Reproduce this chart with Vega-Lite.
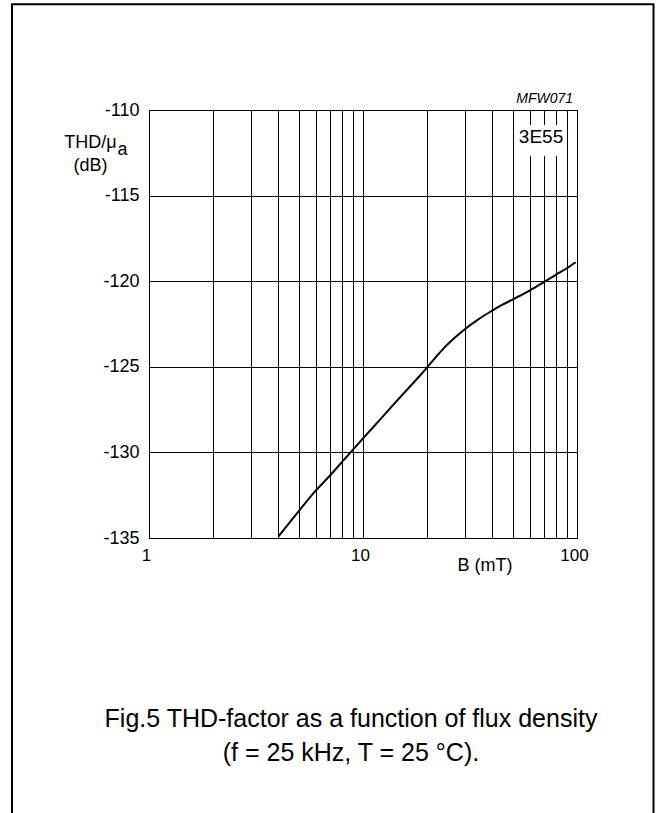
{
  "$schema": "https://vega.github.io/schema/vega-lite/v6.json",
  "width": 428,
  "height": 428,
  "autosize": "none",
  "padding": {"left": 149, "top": 110, "right": 84, "bottom": 275},
  "background": "white",
  "title": {
    "text": ["Fig.5 THD-factor as a function of flux density", "(f = 25 kHz, T = 25 °C)."],
    "orient": "bottom",
    "anchor": "middle",
    "frame": "group",
    "font": "Liberation Sans",
    "fontSize": 25,
    "fontWeight": "normal",
    "color": "#000",
    "lineHeight": 34,
    "offset": -110,
    "dx": -12
  },
  "config": {
    "view": {"stroke": "#000", "strokeWidth": 1},
    "font": "Liberation Sans"
  },
  "layer": [
    {
      "data": {"values": [
        {"B": 4.02, "THD": -134.92},
        {"B": 5.078, "THD": -133.34},
        {"B": 5.967, "THD": -132.28},
        {"B": 7.012, "THD": -131.35},
        {"B": 8.24, "THD": -130.36},
        {"B": 10, "THD": -129.18},
        {"B": 12.01, "THD": -128.09},
        {"B": 14.11, "THD": -127.11},
        {"B": 16.58, "THD": -126.15},
        {"B": 18.47, "THD": -125.51},
        {"B": 20, "THD": -125.01},
        {"B": 21.7, "THD": -124.49},
        {"B": 23.7, "THD": -123.95},
        {"B": 26.91, "THD": -123.29},
        {"B": 30, "THD": -122.79},
        {"B": 34.46, "THD": -122.24},
        {"B": 39.9, "THD": -121.74},
        {"B": 44.62, "THD": -121.39},
        {"B": 50, "THD": -121.07},
        {"B": 60, "THD": -120.55},
        {"B": 70, "THD": -120.05},
        {"B": 80, "THD": -119.61},
        {"B": 90, "THD": -119.23},
        {"B": 98.6, "THD": -118.89}
      ]},
      "mark": {"type": "line", "color": "#000", "strokeWidth": 2, "interpolate": "monotone"},
      "encoding": {
        "x": {
          "field": "B", "type": "quantitative",
          "scale": {"type": "log", "domain": [1, 100], "nice": false},
          "axis": {
            "values": [1, 2, 3, 4, 5, 6, 7, 8, 9, 10, 20, 30, 40, 50, 60, 70, 80, 90, 100],
            "labelExpr": "datum.value == 1 || datum.value == 10 || datum.value == 100 ? format(datum.value, 'd') : ''",
            "grid": true, "gridColor": "#000", "gridOpacity": 1, "gridWidth": 1,
            "ticks": false, "tickSize": 0, "domain": false,
            "labelFont": "Liberation Sans", "labelFontSize": 17, "labelColor": "#000",
            "labelBaseline": "alphabetic", "labelPadding": 22, "labelOffset": -3,
            "labelFlush": false, "labelOverlap": false,
            "title": "B (mT)", "titleFont": "Liberation Sans", "titleFontSize": 18,
            "titleFontWeight": "normal", "titleColor": "#000",
            "titleAlign": "center", "titleBaseline": "alphabetic",
            "titleX": 335.5, "titleY": 32.7
          }
        },
        "y": {
          "field": "THD", "type": "quantitative",
          "scale": {"domain": [-135, -110], "nice": false, "zero": false},
          "axis": {
            "values": [-135, -130, -125, -120, -115, -110],
            "labelExpr": "'' + datum.value",
            "grid": true, "gridColor": "#000", "gridOpacity": 1, "gridWidth": 1,
            "ticks": false, "tickSize": 0, "domain": false,
            "labelFont": "Liberation Sans", "labelFontSize": 18, "labelColor": "#000",
            "labelPadding": 10,
            "title": ["THD/μ", "(dB)"],
            "titleFont": "Liberation Sans", "titleFontSize": 18, "titleFontWeight": "normal",
            "titleColor": "#000", "titleAngle": 0, "titleAlign": "center",
            "titleBaseline": "alphabetic", "titleLineHeight": 23,
            "titleX": -59, "titleY": 37
          }
        }
      }
    },
    {
      "data": {"values": [{"label": "a"}]},
      "mark": {"type": "text", "font": "Liberation Sans", "fontSize": 18, "align": "left", "baseline": "alphabetic", "color": "#000"},
      "encoding": {
        "x": {"datum": 0.7124, "type": "quantitative"},
        "y": {"datum": -112.63, "type": "quantitative"},
        "text": {"field": "label"}
      }
    },
    {
      "data": {"values": [{"label": "3E55"}]},
      "mark": {"type": "rect", "color": "white"},
      "encoding": {
        "x": {"datum": 51.9, "type": "quantitative"},
        "x2": {"datum": 88.5},
        "y": {"datum": -110.88, "type": "quantitative"},
        "y2": {"datum": -112.69}
      }
    },
    {
      "data": {"values": [{"label": "3E55"}]},
      "mark": {"type": "text", "font": "Liberation Sans", "fontSize": 19, "align": "center", "baseline": "alphabetic", "color": "#000"},
      "encoding": {
        "x": {"datum": 67.9, "type": "quantitative"},
        "y": {"datum": -111.945, "type": "quantitative"},
        "text": {"field": "label"}
      }
    },
    {
      "data": {"values": [{"label": "MFW071"}]},
      "mark": {"type": "text", "font": "Liberation Sans", "fontSize": 14, "fontStyle": "italic", "align": "right", "baseline": "alphabetic", "color": "#000"},
      "encoding": {
        "x": {"datum": 95.8, "type": "quantitative"},
        "y": {"datum": -109.574, "type": "quantitative"},
        "text": {"field": "label"}
      }
    },
    {
      "data": {"values": [{"label": "frame"}]},
      "mark": {"type": "rect", "fill": "transparent", "stroke": "#000", "strokeWidth": 2},
      "encoding": {
        "x": {"datum": 0.229, "type": "quantitative"},
        "x2": {"datum": 227.8},
        "y": {"datum": -103.82, "type": "quantitative"},
        "y2": {"datum": -151.24}
      }
    }
  ]
}
